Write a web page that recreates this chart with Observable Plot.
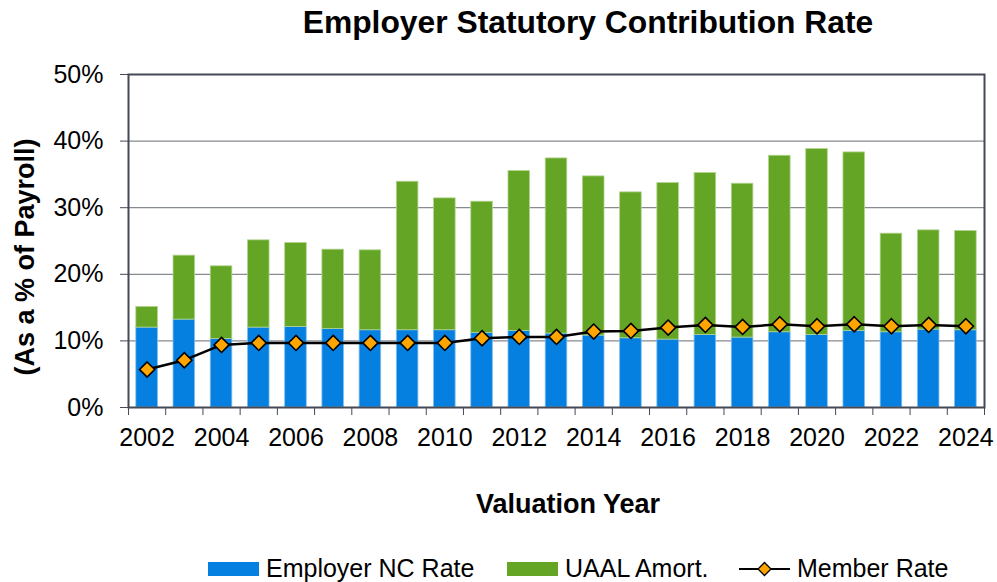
<!DOCTYPE html>
<html>
<head>
<meta charset="utf-8">
<script src="https://cdn.jsdelivr.net/npm/d3@7"></script>
<script src="https://cdn.jsdelivr.net/npm/@observablehq/plot@0.6"></script>
<style>
  html, body { margin: 0; padding: 0; background: #fff; }
  #chart { position: relative; width: 997px; height: 582px; font-family: "Liberation Sans", Arial, sans-serif; color: #000; }
  #title { position: absolute; left: 0; top: 0; width: 997px; height: 50px; line-height: 44px; font-size: 31.8px; font-weight: bold; text-align: center; padding-left: 179px; box-sizing: border-box; }
  #plot { position: absolute; left: 0; top: 50px; }
  #plot svg { overflow: visible; }
  #legend { position: absolute; left: 0; top: 545px; width: 997px; height: 37px; font-size: 25px; }
  .sw { position: absolute; top: 17px; width: 51px; height: 14px; }
  .lt { position: absolute; top: 11px; line-height: 25px; white-space: nowrap; }
</style>
</head>
<body>
<div id="chart">
  <div id="title">Employer Statutory Contribution Rate</div>
  <div id="plot"></div>
  <div id="legend"></div>
</div>
<script>
// ---- data (percent of payroll) ----
const years = [2002, 2003, 2004, 2005, 2006, 2007, 2008, 2009, 2010, 2011, 2012, 2013,
               2014, 2015, 2016, 2017, 2018, 2019, 2020, 2021, 2022, 2023, 2024];
const employerNC = [12.0, 13.2, 10.3, 12.0, 12.1, 11.8, 11.6, 11.6, 11.6, 11.2, 11.5, 11.1,
                    10.8, 10.4, 10.2, 10.9, 10.5, 11.3, 10.9, 11.5, 11.3, 11.7, 11.6];
const uaalAmort = [3.1, 9.6, 10.9, 13.1, 12.6, 11.9, 12.0, 22.3, 19.8, 19.7, 24.0, 26.3,
                   23.9, 21.9, 23.5, 24.3, 23.1, 26.5, 27.9, 26.8, 14.8, 14.9, 14.9];
const memberRate = [5.7, 7.1, 9.4, 9.7, 9.7, 9.7, 9.7, 9.7, 9.7, 10.4, 10.6, 10.6,
                    11.4, 11.5, 12.0, 12.4, 12.1, 12.5, 12.2, 12.5, 12.2, 12.4, 12.2];
const xTickLabels = [2002, 2004, 2006, 2008, 2010, 2012, 2014, 2016, 2018, 2020, 2022, 2024];
const yTicks = [0, 10, 20, 30, 40, 50];
const seriesNames = ["Employer NC Rate", "UAAL Amort.", "Member Rate"];
const colors = { nc: "#0580E1", uaal: "#65A525", member: "#FFA500" };

const data = years.map((year, i) => ({
  year, nc: employerNC[i], uaal: uaalAmort[i], total: employerNC[i] + uaalAmort[i], member: memberRate[i]
}));
const half = 0.29; // half bar width in category units
const boundaries = [years[0] - 0.5, ...years.map(y => y + 0.5)];

const chart = Plot.plot({
  width: 997,
  height: 475,
  marginLeft: 128,
  marginRight: 13,
  marginTop: 24,
  marginBottom: 118,
  style: { fontFamily: "Liberation Sans, Arial, sans-serif", color: "#000", background: "#fff", overflow: "visible" },
  x: { type: "linear", domain: [years[0] - 0.5, years[years.length - 1] + 0.5] },
  y: { domain: [0, 50] },
  marks: [
    Plot.gridY(yTicks.filter(t => t > 0 && t < 50), { stroke: "#868a91", strokeOpacity: 1, strokeWidth: 1.3 }),
    Plot.rectY(data, { x1: d => d.year - half, x2: d => d.year + half, y1: 0, y2: "nc",
      fill: colors.nc, stroke: "#7fbff0", strokeWidth: 0.8 }),
    Plot.rectY(data, { x1: d => d.year - half, x2: d => d.year + half, y1: "nc", y2: "total",
      fill: colors.uaal, stroke: "#b3d48f", strokeWidth: 0.8 }),
    Plot.line(data, { x: "year", y: "member", stroke: "#000", strokeWidth: 2.5 }),
    Plot.dot(data, { x: "year", y: "member", symbol: "diamond2", r: 6.8,
      fill: colors.member, stroke: "#000", strokeWidth: 1.6 }),
    Plot.frame({ stroke: "#434955", strokeWidth: 2 }),
    Plot.axisY({ ticks: yTicks, tickFormat: d => d + "%", tickSize: 8, tickPadding: 17,
      fontSize: 25, label: null, stroke: "#434955" }),
    Plot.axisX({ ticks: boundaries, tickSize: 8, tickFormat: () => "", label: null, stroke: "#434955" }),
    Plot.axisX({ ticks: xTickLabels, tickSize: 0, tickPadding: 21, tickFormat: d => String(d),
      fontSize: 25, label: null }),
    Plot.text(["(As a % of Payroll)"], { frameAnchor: "left", dx: -103, dy: 16, rotate: -90,
      textAnchor: "middle", lineAnchor: "middle",
      fontSize: 27, fontWeight: "bold", fill: "#000" }),
    Plot.text(["Valuation Year"], { frameAnchor: "bottom", dx: 11.5, dy: 97, lineAnchor: "middle",
      textAnchor: "middle", fontSize: 27, fontWeight: "bold", fill: "#000" })
  ]
});
document.getElementById("plot").appendChild(chart);

// ---- legend ----
const legend = document.getElementById("legend");
const items = [
  { name: seriesNames[0], swLeft: 208, textLeft: 266, type: "rect", color: colors.nc },
  { name: seriesNames[1], swLeft: 507, textLeft: 565, type: "rect", color: colors.uaal },
  { name: seriesNames[2], swLeft: 739, textLeft: 797, type: "line", color: colors.member }
];
for (const it of items) {
  if (it.type === "rect") {
    const s = document.createElement("div");
    s.className = "sw";
    s.style.left = it.swLeft + "px";
    s.style.background = it.color;
    legend.appendChild(s);
  } else {
    const ns = "http://www.w3.org/2000/svg";
    const svg = document.createElementNS(ns, "svg");
    svg.setAttribute("width", 51); svg.setAttribute("height", 20);
    svg.style.position = "absolute"; svg.style.left = it.swLeft + "px"; svg.style.top = "14px";
    const ln = document.createElementNS(ns, "line");
    ln.setAttribute("x1", 0); ln.setAttribute("x2", 51); ln.setAttribute("y1", 10); ln.setAttribute("y2", 10);
    ln.setAttribute("stroke", "#000"); ln.setAttribute("stroke-width", 2.2);
    const dm = document.createElementNS(ns, "path");
    dm.setAttribute("d", "M25.5,3.5L32,10L25.5,16.5L19,10Z");
    dm.setAttribute("fill", it.color); dm.setAttribute("stroke", "#000"); dm.setAttribute("stroke-width", 1.3);
    svg.appendChild(ln); svg.appendChild(dm);
    legend.appendChild(svg);
  }
  const t = document.createElement("div");
  t.className = "lt";
  t.style.left = it.textLeft + "px";
  t.textContent = it.name;
  legend.appendChild(t);
}
</script>
</body>
</html>
